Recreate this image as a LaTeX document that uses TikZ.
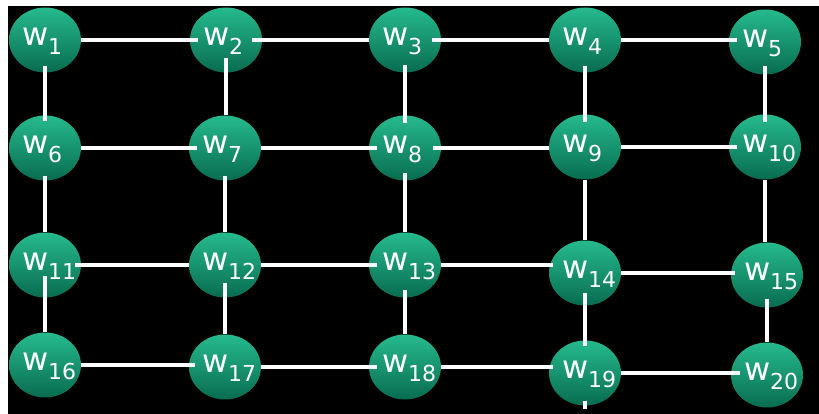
\documentclass[tikz,border=0pt]{standalone}
\usepackage{fontspec}
\setmainfont{DejaVu Sans}
\usetikzlibrary{shapes.geometric}

\definecolor{wtop}{RGB}{38,186,142}
\definecolor{wbot}{RGB}{8,108,80}

% label "w" with a lowered index, left-aligned in a fixed box
\newcommand{\wlab}[1]{\makebox[46pt][l]{\rule{0pt}{21pt}\fontsize{32}{32}\selectfont w\raisebox{-9pt}{\fontsize{22}{22}\selectfont #1}}}
% horizontal and vertical links; the last two arguments extend the line into the nodes
\newcommand{\hlink}[4]{\draw[link, shorten <=-#3pt, shorten >=-#4pt] (#1.east) -- (#1.east -| #2.west);}
\newcommand{\vlink}[4]{\draw[link, shorten <=-#3pt, shorten >=-#4pt] (#1.south) -- (#1.south |- #2.north);}

\tikzset{
  wnode/.style={ellipse, minimum width=72pt, minimum height=65pt, inner sep=0pt,
                top color=wtop, bottom color=wbot, text=white},
  link/.style={draw=white, line width=4pt}
}

\begin{document}
\begin{tikzpicture}[x=1pt,y=1pt]
  \useasboundingbox (0,0) rectangle (819,414);
  \fill[white] (0,0) rectangle (819,414);
  \fill[black] (8,0) rectangle (819,408);

  % row 1
  \node[wnode] (w1)  at (45,374)  {\wlab{1}};
  \node[wnode] (w2)  at (226,374) {\wlab{2}};
  \node[wnode] (w3)  at (405,374) {\wlab{3}};
  \node[wnode] (w4)  at (585,374) {\wlab{4}};
  \node[wnode] (w5)  at (765,372) {\wlab{5}};
  % row 2
  \node[wnode] (w6)  at (45,266)  {\wlab{6}};
  \node[wnode] (w7)  at (225,266) {\wlab{7}};
  \node[wnode] (w8)  at (405,266) {\wlab{8}};
  \node[wnode] (w9)  at (585,267) {\wlab{9}};
  \node[wnode] (w10) at (765,267) {\wlab{10}};
  % row 3
  \node[wnode] (w11) at (45,149)  {\wlab{11}};
  \node[wnode] (w12) at (225,149) {\wlab{12}};
  \node[wnode] (w13) at (405,149) {\wlab{13}};
  \node[wnode] (w14) at (585,141) {\wlab{14}};
  \node[wnode] (w15) at (767,139) {\wlab{15}};
  % row 4
  \node[wnode] (w16) at (45,49)   {\wlab{16}};
  \node[wnode] (w17) at (225,47)  {\wlab{17}};
  \node[wnode] (w18) at (405,47)  {\wlab{18}};
  \node[wnode] (w19) at (585,41)  {\wlab{19}};
  \node[wnode] (w20) at (767,39)  {\wlab{20}};

  \coordinate (down19) at (585,5);

  % horizontal links
  \hlink{w1}{w2}{0}{8}
  \hlink{w2}{w3}{10}{0}
  \hlink{w3}{w4}{9}{0}
  \hlink{w4}{w5}{0}{8}
  \hlink{w6}{w7}{0}{8}
  \hlink{w7}{w8}{0}{8}
  \hlink{w8}{w9}{8}{0}
  \hlink{w9}{w10}{0}{8}
  \hlink{w11}{w12}{6}{0}
  \hlink{w12}{w13}{0}{8}
  \hlink{w13}{w14}{0}{4}
  \hlink{w14}{w15}{0}{4}
  \hlink{w16}{w17}{0}{6}
  \hlink{w17}{w18}{0}{8}
  \hlink{w18}{w19}{0}{4}
  \hlink{w19}{w20}{0}{9}

  % vertical links
  \vlink{w1}{w6}{7}{6}
  \vlink{w6}{w11}{5}{0}
  \vlink{w11}{w16}{22}{0}
  \vlink{w2}{w7}{15}{0}
  \vlink{w7}{w12}{5}{0}
  \vlink{w12}{w17}{15}{0}
  \vlink{w3}{w8}{8}{8}
  \vlink{w8}{w13}{8}{0}
  \vlink{w13}{w18}{8}{0}
  \vlink{w4}{w9}{7}{8}
  \vlink{w9}{w14}{0}{0}
  \vlink{w14}{w19}{13}{6}
  \vlink{w5}{w10}{9}{8}
  \vlink{w10}{w15}{0}{0}
  \vlink{w15}{w20}{9}{0}
  \draw[link, shorten <=-5pt] (w19.south) -- (down19);
\end{tikzpicture}
\end{document}
